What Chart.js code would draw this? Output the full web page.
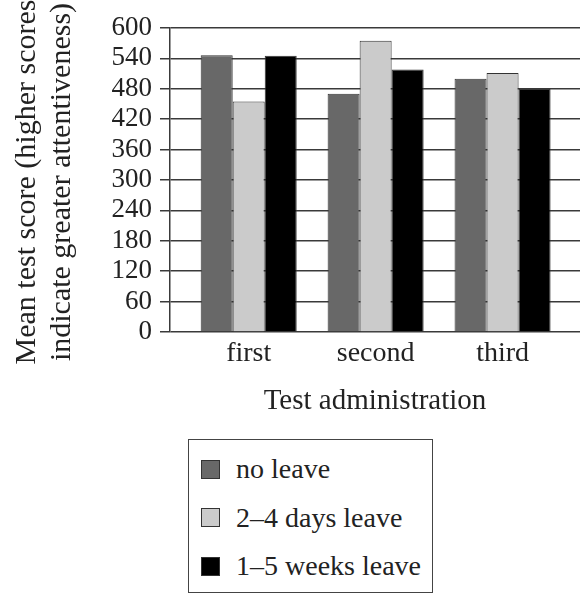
<!DOCTYPE html>
<html>
<head>
<meta charset="utf-8">
<script src="https://cdn.jsdelivr.net/npm/chart.js@4/dist/chart.umd.min.js"></script>
<style>
  body { margin: 0; background: #fff; }
  #wrap { position: relative; width: 580px; height: 596px; overflow: hidden; }
  #legend {
    position: absolute; left: 188px; top: 439px; width: 243px; height: 152px;
    border: 1.5px solid #444; font-family: "Liberation Serif", serif; font-size: 28px; color: #222;
  }
  .item { position: absolute; left: 12px; height: 48px; display: flex; align-items: center; }
  .box { width: 17px; height: 17px; border: 1px solid #333; margin-right: 16px; }
</style>
</head>
<body>
<div id="wrap">
  <canvas id="chart" width="580" height="430"></canvas>
  <div id="legend"></div>
</div>
<script>
const categories = ["first", "second", "third"];
const seriesNames = ["no leave", "2\u20134 days leave", "1\u20135 weeks leave"];
const noLeave = [546, 470, 500];
const shortLeave = [455, 575, 511];
const longLeave = [545, 518, 480];
const yTitle = ["Mean test score (higher scores", "indicate greater attentiveness)"];

const serif = "'Liberation Serif', serif";

// y title drawn by hand so it can run past the plot like the original
const yTitlePlugin = {
  id: "yTitle",
  afterDraw(chart) {
    const ctx = chart.ctx;
    const mid = (chart.chartArea.top + chart.chartArea.bottom) / 2 + 2;
    ctx.save();
    ctx.fillStyle = "#222";
    ctx.font = "30px " + serif;
    ctx.textAlign = "center";
    ctx.textBaseline = "middle";
    yTitle.forEach((line, i) => {
      ctx.save();
      ctx.translate(27 + i * 35, mid);
      ctx.rotate(-Math.PI / 2);
      ctx.fillText(line, 0, 0);
      ctx.restore();
    });
    ctx.restore();
  }
};

const toPoints = arr => arr.map((v, i) => ({ x: i, y: v }));
const colors = ["#686868", "#cbcbcb", "#000000"];

const chart = new Chart(document.getElementById("chart"), {
  type: "bar",
  data: {
    datasets: [noLeave, shortLeave, longLeave].map((vals, i) => ({
      label: seriesNames[i],
      data: toPoints(vals),
      backgroundColor: colors[i],
      borderColor: "#333",
      borderWidth: 1,
      categoryPercentage: 0.7565,
      barPercentage: 1
    }))
  },
  options: {
    responsive: false,
    animation: false,
    layout: { padding: { top: 28, left: 0, right: 0, bottom: 0 } },
    plugins: { legend: { display: false }, tooltip: { enabled: false } },
    scales: {
      x: {
        type: "linear",
        offset: false,
        min: -0.62,
        max: 2.61,
        grid: { display: false, drawTicks: false },
        border: { display: false },
        afterBuildTicks: s => { s.ticks = categories.map((_, i) => ({ value: i })); },
        afterFit: s => { s.height = 98; },
        ticks: {
          callback: v => categories[v],
          color: "#222",
          padding: 5,
          font: { family: serif, size: 28 }
        },
        title: {
          display: true,
          text: "Test administration",
          color: "#222",
          font: { family: serif, size: 29 },
          padding: { top: 0, bottom: 11 }
        }
      },
      y: {
        min: 0,
        max: 600,
        afterFit: s => { s.width = 170; },
        grid: { color: "#3a3a3a", lineWidth: 1.5, tickLength: 10 },
        border: { color: "#3a3a3a", width: 1.5 },
        ticks: {
          stepSize: 60,
          autoSkip: false,
          color: "#222",
          padding: 8,
          font: { family: serif, size: 27, lineHeight: 1 }
        }
      }
    }
  },
  plugins: [yTitlePlugin]
});

// legend box from the chart's datasets
const legend = document.getElementById("legend");
chart.data.datasets.forEach((ds, i) => {
  const item = document.createElement("div");
  item.className = "item";
  item.style.top = (5 + i * 48.5) + "px";
  const box = document.createElement("span");
  box.className = "box";
  box.style.background = ds.backgroundColor;
  const txt = document.createElement("span");
  txt.textContent = ds.label;
  item.appendChild(box);
  item.appendChild(txt);
  legend.appendChild(item);
});
</script>
</body>
</html>
